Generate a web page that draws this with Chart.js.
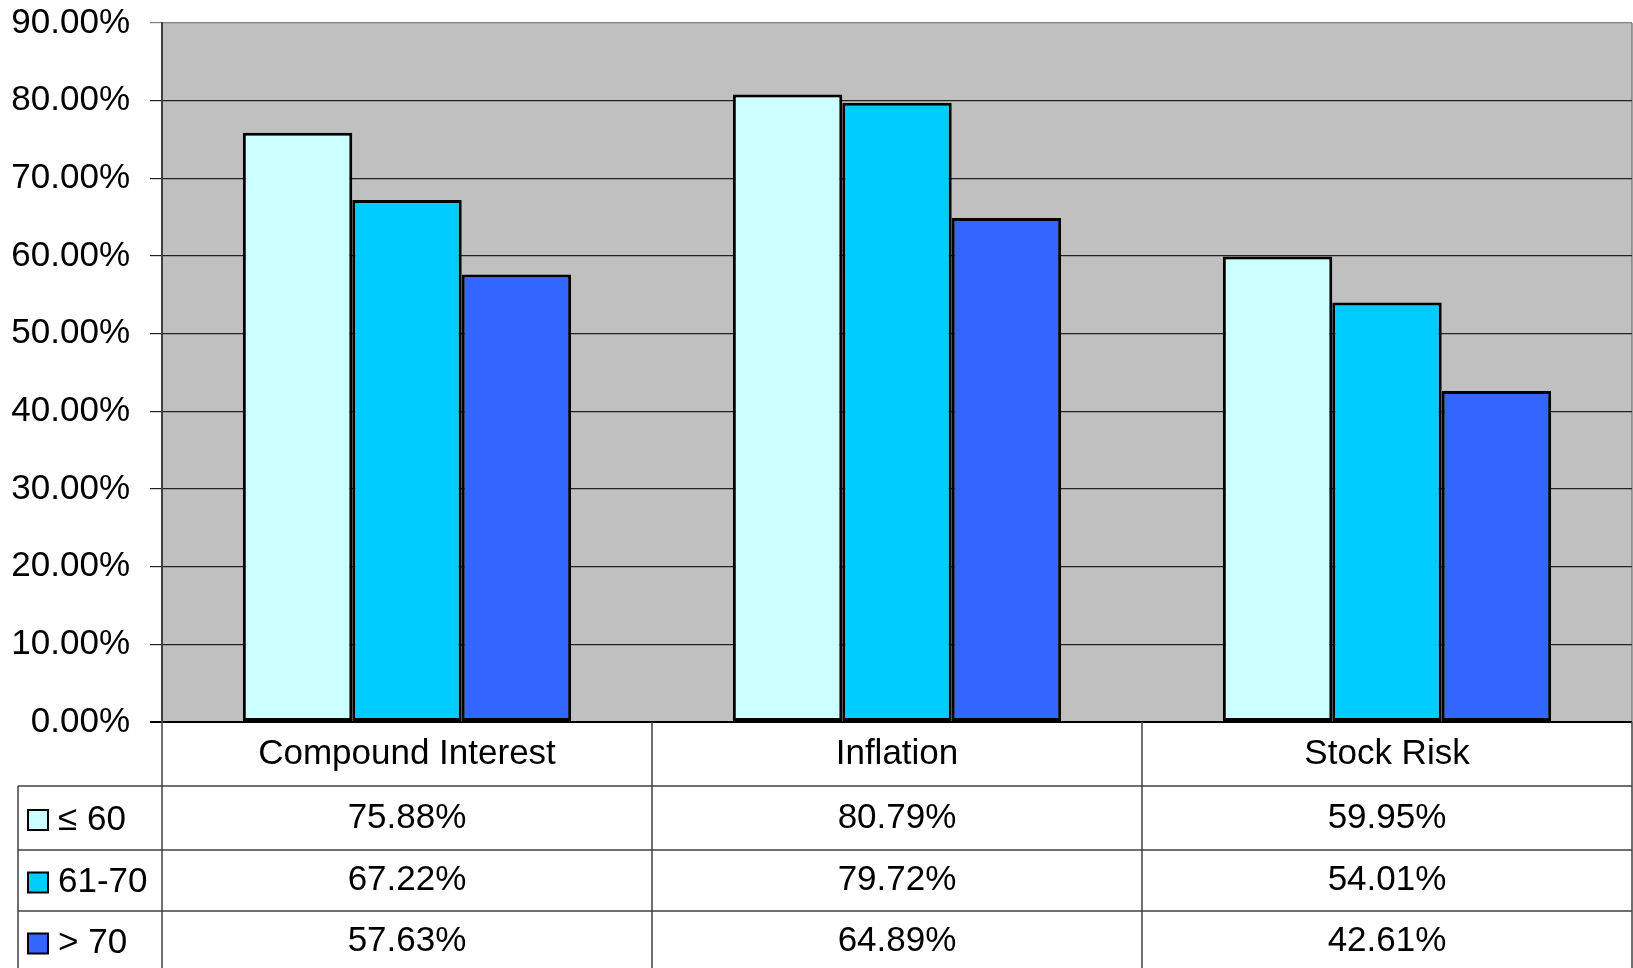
<!DOCTYPE html>
<html>
<head>
<meta charset="utf-8">
<script src="https://cdn.jsdelivr.net/npm/chart.js@4.4.0/dist/chart.umd.min.js"></script>
<style>
  html, body { margin: 0; padding: 0; background: #fff; }
  canvas { display: block; }
</style>
</head>
<body>
<canvas id="quizChart" width="1633" height="968"></canvas>
<script>
const categories = ['Compound Interest', 'Inflation', 'Stock Risk'];
const ageGroups = ['\u2264 60', '61-70', '> 70'];
const upTo60 = [75.88, 80.79, 59.95];
const from61to70 = [67.22, 79.72, 54.01];
const over70 = [57.63, 64.89, 42.61];
const groupColors = ['#CCFFFF', '#00CCFF', '#3366FF'];
const yTicks = [0, 10, 20, 30, 40, 50, 60, 70, 80, 90];

const FONT = '"Liberation Sans", Arial, sans-serif';
const pct = v => v.toFixed(2) + '%';

// gray plot background
const plotBackground = {
    id: 'plotBackground',
    beforeDraw(chart) {
        const { ctx, chartArea: a } = chart;
        ctx.save();
        ctx.fillStyle = '#C0C0C0';
        ctx.fillRect(a.left, a.top, a.right - a.left, a.bottom - a.top);
        ctx.strokeStyle = '#808080';
        ctx.lineWidth = 1.5;
        ctx.beginPath();
        ctx.moveTo(a.right, a.top);
        ctx.lineTo(a.right, a.bottom);
        ctx.stroke();
        ctx.restore();
    }
};

// data table under the plot: category row + one row per age group
const dataTable = {
    id: 'dataTable',
    afterDraw(chart) {
        const { ctx, chartArea: a, scales } = chart;
        const xs = scales.x;
        const catRowH = 64;
        const rowH = [64, 61, 61];
        const legendLeft = 18;
        const step = xs.getPixelForValue(1) - xs.getPixelForValue(0);

        ctx.save();
        ctx.strokeStyle = '#404040';
        ctx.lineWidth = 1.5;

        // vertical lines
        ctx.beginPath();
        for (let i = 0; i <= categories.length; i++) {
            const x = Math.min(xs.getPixelForValue(i) - step / 2, chart.width - 1);
            ctx.moveTo(x, a.bottom);
            ctx.lineTo(x, chart.height);
        }
        ctx.moveTo(legendLeft, a.bottom + catRowH);
        ctx.lineTo(legendLeft, chart.height);
        ctx.stroke();

        // horizontal lines
        let y = a.bottom + catRowH;
        ctx.beginPath();
        for (let r = 0; r < rowH.length; r++) {
            ctx.moveTo(legendLeft, y);
            ctx.lineTo(a.right, y);
            y += rowH[r];
        }
        ctx.stroke();

        ctx.fillStyle = '#000';
        ctx.font = '35px ' + FONT;
        ctx.textAlign = 'center';
        ctx.textBaseline = 'middle';
        categories.forEach((c, i) => {
            ctx.fillText(c, xs.getPixelForValue(i), a.bottom + catRowH / 2);
        });

        let top = a.bottom + catRowH;
        chart.data.datasets.forEach((ds, r) => {
            const cy = top + rowH[r] / 2;
            ctx.textAlign = 'center';
            ds.data.forEach((v, i) => {
                ctx.fillText(pct(v), xs.getPixelForValue(i), cy);
            });
            // legend key
            ctx.fillStyle = ds.backgroundColor;
            ctx.fillRect(28, cy - 8, 20, 20);
            ctx.strokeStyle = '#000';
            ctx.lineWidth = 2;
            ctx.strokeRect(28, cy - 8, 20, 20);
            ctx.fillStyle = '#000';
            ctx.textAlign = 'left';
            ctx.fillText(ds.label, 58, cy + 2);
            top += rowH[r];
        });
        ctx.restore();
    }
};

new Chart(document.getElementById('quizChart'), {
    type: 'bar',
    data: {
        labels: categories,
        datasets: [upTo60, from61to70, over70].map((d, i) => ({
            label: ageGroups[i],
            data: d,
            backgroundColor: groupColors[i],
            borderColor: '#000',
            borderWidth: 3,
            borderSkipped: false
        }))
    },
    options: {
        responsive: false,
        animation: false,
        layout: { padding: { top: 23, right: 1, bottom: 246, left: 0 } },
        categoryPercentage: 0.67,
        barPercentage: 1.0,
        plugins: {
            legend: { display: false },
            tooltip: { enabled: false }
        },
        scales: {
            x: { display: false },
            y: {
                min: 0,
                max: 90,
                afterBuildTicks: s => { s.ticks = yTicks.map(v => ({ value: v })); },
                afterFit: s => {
                    s.width = 162;
                    s.paddingTop = 0;
                    s.paddingBottom = 0;
                },
                border: { color: '#404040', width: 2 },
                grid: {
                    tickLength: 12,
                    lineWidth: ctx => (ctx.tick && ctx.tick.value === 0 ? 2 : 1.2),
                    color: ctx => {
                        if (!ctx.tick) return '#222';
                        if (ctx.tick.value === 90) return '#808080';
                        return ctx.tick.value === 0 ? '#000' : '#222';
                    }
                },
                ticks: {
                    padding: 20,
                    color: '#000',
                    font: { family: FONT, size: 35 },
                    callback: v => pct(v)
                }
            }
        }
    },
    plugins: [plotBackground, dataTable]
});
</script>
</body>
</html>
